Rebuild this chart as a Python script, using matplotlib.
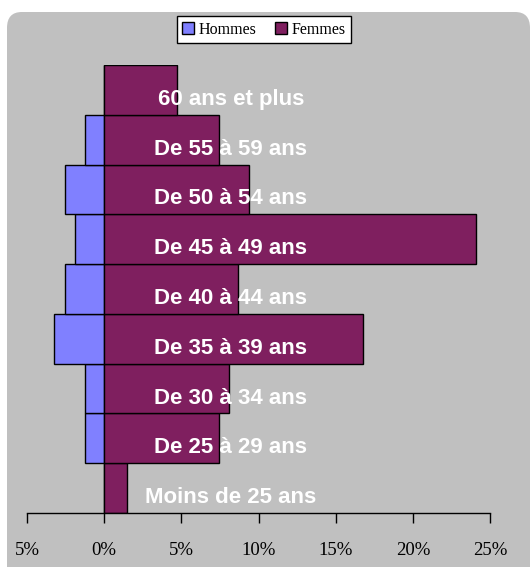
import matplotlib.pyplot as plt
from matplotlib.patches import FancyBboxPatch
from matplotlib.ticker import FuncFormatter

# tranches d'âge, du bas vers le haut
categories = ['Moins de 25 ans', 'De 25 à 29 ans', 'De 30 à 34 ans', 'De 35 à 39 ans',
              'De 40 à 44 ans', 'De 45 à 49 ans', 'De 50 à 54 ans', 'De 55 à 59 ans',
              '60 ans et plus']
hommes = [0.0, 1.23, 1.23, 3.28, 2.53, 1.88, 2.53, 1.23, 0.0]
femmes = [1.47, 7.47, 8.12, 16.75, 8.70, 24.1, 9.37, 7.47, 4.75]
xticks = [-5, 0, 5, 10, 15, 20, 25]

fig = plt.figure(figsize=(5.31, 5.67), dpi=100)
fig.patch.set_facecolor('white')

# fond gris arrondi
bg = FancyBboxPatch((7 / 531, -0.05), (530 - 7) / 531, 1 - 12 / 567 + 0.05,
                    boxstyle='round,pad=0,rounding_size=0.028',
                    transform=fig.transFigure, facecolor='#C0C0C0',
                    edgecolor='none', zorder=-10)
fig.patches.append(bg)

ax = fig.add_axes([27 / 531, 1 - 513 / 567, (490 - 27) / 531, (513 - 65) / 567])
ax.set_facecolor('none')
ax.set_zorder(5)

y = range(len(categories))
ax.barh(y, [-h for h in hommes], height=1.0, color='#8080FF',
        edgecolor='black', linewidth=1, label='Hommes')
ax.barh(y, femmes, height=1.0, color='#7F1F5F',
        edgecolor='black', linewidth=1, label='Femmes')

for i, cat in enumerate(categories):
    ax.text(8.2, i - 0.19, cat, ha='center', va='center', color='white',
            fontsize=16, fontweight='bold', family='Liberation Sans')

ax.set_xlim(-5, 25)
ax.set_ylim(-0.5, len(categories) - 0.5)
ax.set_xticks(xticks)
ax.xaxis.set_major_formatter(FuncFormatter(lambda v, p: f'{abs(v):.0f}%'))
ax.set_yticks([])
for s in ['left', 'right', 'top']:
    ax.spines[s].set_visible(False)
ax.spines['bottom'].set_linewidth(1)
ax.tick_params(axis='x', direction='out', length=7, width=1, pad=14,
               labelsize=13.5)
for lab in ax.get_xticklabels():
    lab.set_family('Liberation Serif')

leg = fig.legend(loc='upper center', bbox_to_anchor=(264 / 531, 1 - 16 / 567),
                 borderaxespad=0, ncol=2, frameon=True, fancybox=False,
                 edgecolor='black', framealpha=1, borderpad=0.35,
                 handlelength=0.7, handleheight=0.7, handletextpad=0.3,
                 columnspacing=1.2,
                 prop={'family': 'Liberation Serif', 'size': 11.5})
leg.get_frame().set_linewidth(1)

fig.savefig('out.png', dpi=100)
